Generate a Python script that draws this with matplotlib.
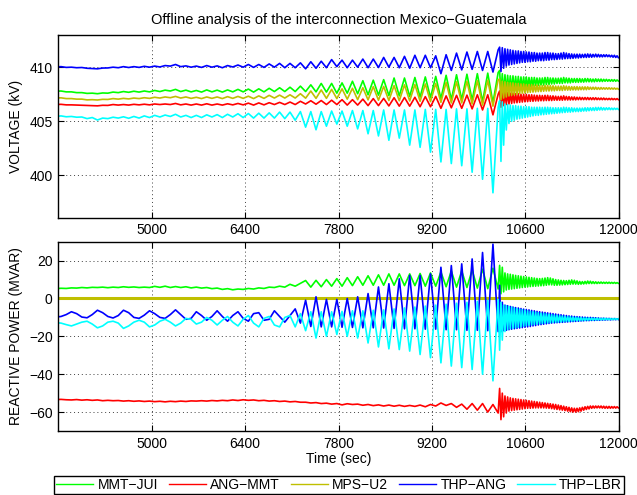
import numpy as np
import matplotlib
matplotlib.use("Agg")
import matplotlib.pyplot as plt

plt.rcParams['font.family'] = ['Liberation Sans', 'DejaVu Sans']

names = ["MMT\u2212JUI", "ANG\u2212MMT", "MPS\u2212U2", "THP\u2212ANG", "THP\u2212LBR"]
colors = ["#00ff00", "#ff0000", "#bfbf00", "#0000ff", "#00ffff"]

x_ticks = [5000, 6400, 7800, 9200, 10600, 12000]

# sample instants (s): slow swing every 78 s, post-event ringing every 20 s
t_slow = np.arange(3563, 10200, 78)    # 86 samples
t_fast = np.arange(10215, 12000, 20)   # 90 samples

# ---------------- bus voltages (kV) ----------------
v_mmt_slow = [407.78, 407.8, 407.72, 407.72, 407.65, 407.65, 407.58, 407.6, 407.55, 407.62,
              407.6, 407.7, 407.65, 407.75, 407.68, 407.78, 407.7, 407.8, 407.72, 407.85,
              407.75, 407.88, 407.8, 407.95, 407.75, 407.88, 407.72, 407.85, 407.7, 407.9,
              407.72, 407.88, 407.7, 407.9, 407.72, 407.95, 407.72, 407.98, 407.7, 408.0,
              407.72, 408.05, 407.75, 408.1, 407.75, 408.15, 407.75, 408.25,
              407.75, 408.37, 407.72, 408.5, 407.7, 408.5, 407.6, 408.55, 407.6, 408.7,
              407.55, 408.75, 407.45, 408.8, 407.42, 408.85, 407.38, 409.0, 407.35, 409.0,
              407.3, 409.05, 407.23, 409.1, 407.2, 409.15, 407.1, 409.25, 407.0, 409.3,
              407.0, 409.35, 406.95, 409.4, 406.8, 409.45, 406.7, 409.5]
v_mmt_fast = [(409.7, 407.5), (409.4, 407.6), (409.3, 407.7), (409.25, 407.8), (409.2, 407.85),
              (409.2, 407.9), (409.15, 407.95), (409.15, 408.0), (409.1, 408.05), (409.1, 408.1),
              (409.1, 408.15), (409.05, 408.2), (409.05, 408.25), (409.05, 408.3), (409.0, 408.3),
              (409.0, 408.35), (409.0, 408.35), (409.05, 408.4), (409.05, 408.4), (409.0, 408.45),
              (409.0, 408.45), (408.98, 408.5), (408.98, 408.5), (409.0, 408.5), (409.05, 408.55),
              (409.0, 408.55), (408.98, 408.55), (408.95, 408.6), (408.95, 408.6), (408.95, 408.6),
              (408.95, 408.62), (408.92, 408.62), (408.95, 408.65), (408.95, 408.65), (408.92, 408.65),
              (408.9, 408.65), (408.92, 408.68), (408.9, 408.68), (408.9, 408.68), (408.88, 408.7),
              (408.88, 408.7), (408.85, 408.7), (408.85, 408.7), (408.85, 408.7), (408.82, 408.72)]

v_ang_slow = [406.55, 406.57, 406.52, 406.52, 406.5, 406.48, 406.45, 406.45, 406.43, 406.48,
              406.47, 406.55, 406.5, 406.55, 406.5, 406.57, 406.52, 406.58, 406.52, 406.6,
              406.55, 406.6, 406.55, 406.65, 406.52, 406.6, 406.5, 406.6, 406.5, 406.62,
              406.5, 406.6, 406.5, 406.62, 406.52, 406.65, 406.52, 406.68, 406.5, 406.7,
              406.52, 406.72, 406.55, 406.75, 406.55, 406.78, 406.55, 406.85,
              406.6, 406.9, 406.58, 406.92, 406.55, 406.95, 406.55, 407.0, 406.5, 407.0,
              406.5, 407.05, 406.45, 407.1, 406.45, 407.12, 406.42, 407.18, 406.4, 407.2,
              406.4, 407.22, 406.35, 407.28, 406.35, 407.3, 406.2, 407.35, 406.25, 407.4,
              406.2, 407.42, 406.15, 407.45, 406.05, 407.45, 405.6, 407.5]
v_ang_fast = [(407.8, 406.3), (407.75, 406.45), (407.7, 406.55), (407.65, 406.6), (407.6, 406.65),
              (407.6, 406.7), (407.55, 406.72), (407.55, 406.75), (407.5, 406.78), (407.5, 406.8),
              (407.48, 406.82), (407.45, 406.85), (407.45, 406.85), (407.42, 406.88), (407.4, 406.88),
              (407.4, 406.9), (407.38, 406.9), (407.4, 406.92), (407.4, 406.92), (407.35, 406.92),
              (407.35, 406.95), (407.32, 406.95), (407.3, 406.95), (407.32, 406.95), (407.35, 406.97),
              (407.3, 406.97), (407.28, 406.97), (407.25, 406.98), (407.25, 406.98), (407.22, 407.0),
              (407.22, 407.0), (407.2, 407.0), (407.2, 407.0), (407.2, 407.0), (407.18, 407.0),
              (407.18, 407.0), (407.18, 407.0), (407.15, 407.0), (407.15, 407.0), (407.15, 407.0),
              (407.12, 407.0), (407.12, 407.0), (407.12, 407.0), (407.1, 407.0), (407.1, 407.0)]

v_mps_slow = [407.15, 407.17, 407.1, 407.1, 407.05, 407.05, 406.98, 407.0, 406.97, 407.03,
              407.02, 407.1, 407.05, 407.12, 407.07, 407.15, 407.1, 407.18, 407.12, 407.22,
              407.15, 407.25, 407.18, 407.3, 407.15, 407.25, 407.12, 407.22, 407.1, 407.25,
              407.12, 407.25, 407.1, 407.28, 407.12, 407.3, 407.12, 407.32, 407.1, 407.35,
              407.12, 407.4, 407.15, 407.42, 407.15, 407.45, 407.15, 407.55,
              407.14, 407.8, 407.12, 407.9, 407.12, 407.95, 407.1, 408.0, 407.05, 408.05,
              407.0, 408.1, 406.98, 408.2, 406.95, 408.22, 406.92, 408.3, 406.9, 408.37,
              406.88, 408.4, 406.85, 408.45, 406.82, 408.5, 406.75, 408.6, 406.7, 408.65,
              406.7, 408.7, 406.6, 408.75, 406.5, 408.8, 406.4, 408.85]
v_mps_fast = [(408.9, 407.0), (408.7, 407.15), (408.65, 407.25), (408.6, 407.35), (408.55, 407.4),
              (408.55, 407.45), (408.5, 407.5), (408.5, 407.55), (408.45, 407.6), (408.45, 407.62),
              (408.4, 407.65), (408.4, 407.68), (408.38, 407.7), (408.35, 407.72), (408.35, 407.75),
              (408.32, 407.75), (408.3, 407.78), (408.32, 407.8), (408.32, 407.8), (408.3, 407.82),
              (408.28, 407.82), (408.25, 407.85), (408.25, 407.85), (408.25, 407.85), (408.28, 407.88),
              (408.25, 407.88), (408.22, 407.88), (408.2, 407.9), (408.2, 407.9), (408.2, 407.9),
              (408.18, 407.92), (408.18, 407.92), (408.18, 407.92), (408.18, 407.95), (408.15, 407.95),
              (408.15, 407.95), (408.15, 407.95), (408.12, 407.95), (408.12, 407.97), (408.1, 407.97),
              (408.1, 407.97), (408.1, 407.97), (408.08, 407.97), (408.08, 407.97), (408.05, 407.97)]

v_thp_ang_slow = [410.02, 410.05, 409.98, 410.0, 409.95, 409.97, 409.9, 409.88, 409.85, 409.92,
                  409.93, 410.0, 409.95, 410.05, 409.97, 410.05, 409.98, 410.08, 410.0, 410.1,
                  410.02, 410.15, 410.1, 410.25, 410.05, 410.12, 410.0, 410.1, 409.98, 410.15,
                  410.0, 410.12, 409.95, 410.15, 410.02, 410.2, 410.0, 410.25, 409.98, 410.25,
                  409.98, 410.3, 410.0, 410.35, 409.95, 410.35, 409.95, 410.4,
                  409.85, 410.5, 409.9, 410.55, 409.95, 410.7, 410.05, 410.65, 409.95, 410.65,
                  410.0, 410.75, 409.95, 410.75, 409.97, 410.9, 410.0, 410.9, 409.95, 411.0,
                  409.9, 411.1, 409.95, 411.1, 409.95, 411.05, 409.4, 411.15, 409.7, 411.3,
                  409.75, 411.4, 409.8, 411.45, 409.7, 411.45, 409.55, 411.6]
v_thp_ang_fast = [(411.85, 409.6), (411.8, 409.9), (411.7, 410.1), (411.65, 410.2), (411.6, 410.25),
                  (411.55, 410.3), (411.5, 410.35), (411.5, 410.4), (411.45, 410.45), (411.45, 410.45),
                  (411.4, 410.5), (411.4, 410.5), (411.35, 410.55), (411.35, 410.55), (411.3, 410.6),
                  (411.3, 410.6), (411.3, 410.6), (411.35, 410.65), (411.35, 410.65), (411.3, 410.7),
                  (411.3, 410.7), (411.25, 410.72), (411.25, 410.75), (411.3, 410.75), (411.35, 410.78),
                  (411.3, 410.8), (411.25, 410.8), (411.22, 410.82), (411.2, 410.85), (411.2, 410.85),
                  (411.2, 410.88), (411.18, 410.9), (411.2, 410.9), (411.22, 410.92), (411.2, 410.92),
                  (411.18, 410.95), (411.2, 410.95), (411.18, 410.95), (411.15, 410.95), (411.15, 410.97),
                  (411.15, 410.97), (411.12, 410.95), (411.1, 410.92), (411.1, 410.9), (411.05, 410.88)]

v_thp_lbr_slow = [405.45, 405.5, 405.42, 405.45, 405.38, 405.4, 405.25, 405.35, 405.12, 405.3,
                  405.25, 405.38, 405.3, 405.42, 405.28, 405.45, 405.3, 405.5, 405.35, 405.55,
                  405.4, 405.58, 405.45, 405.65, 405.4, 405.55, 405.35, 405.55, 405.35, 405.6,
                  405.4, 405.62, 405.35, 405.65, 405.4, 405.7, 405.35, 405.72, 405.3, 405.75,
                  405.3, 405.78, 405.3, 405.85, 405.25, 405.85, 405.1, 405.9,
                  404.46, 405.9, 404.22, 405.9, 404.55, 405.95, 404.75, 405.95, 404.55, 406.0,
                  404.3, 406.0, 403.85, 406.0, 403.65, 406.05, 403.25, 406.05, 403.45, 406.05,
                  402.8, 406.05, 402.6, 406.1, 402.15, 406.1, 401.25, 406.1, 401.1, 406.15,
                  400.9, 406.15, 400.3, 406.2, 399.65, 406.2, 398.4, 406.3]
v_thp_lbr_fast = [(406.9, 401.3), (406.8, 402.8), (406.6, 404.2), (406.55, 404.8), (406.5, 405.0),
                  (406.45, 405.1), (406.45, 405.2), (406.4, 405.25), (406.4, 405.3), (406.35, 405.35),
                  (406.35, 405.4), (406.35, 405.45), (406.3, 405.5), (406.3, 405.55), (406.3, 405.55),
                  (406.3, 405.6), (406.28, 405.62), (406.3, 405.65), (406.3, 405.68), (406.28, 405.7),
                  (406.25, 405.72), (406.25, 405.75), (406.25, 405.78), (406.25, 405.8), (406.3, 405.82),
                  (406.28, 405.85), (406.25, 405.85), (406.25, 405.88), (406.22, 405.9), (406.22, 405.9),
                  (406.22, 405.92), (406.22, 405.95), (406.25, 405.95), (406.25, 405.98), (406.25, 406.0),
                  (406.25, 406.0), (406.28, 406.02), (406.28, 406.05), (406.28, 406.05), (406.25, 406.05),
                  (406.25, 406.08), (406.25, 406.08), (406.22, 406.08), (406.22, 406.1), (406.2, 406.1)]

# ---------------- reactive power flows (MVAR) ----------------
q_mmt_slow = [5.2, 5.4, 5.3, 5.6, 5.5, 5.8, 5.6, 5.9, 5.8, 6.0,
              5.7, 6.0, 5.8, 6.2, 5.9, 6.1, 5.8, 6.0, 5.8, 6.4,
              5.9, 6.5, 5.8, 6.3, 5.8, 6.2, 5.6, 6.0, 5.5, 5.8,
              5.2, 5.5, 4.8, 5.2, 4.6, 5.0, 4.8, 5.3, 5.0, 5.6,
              5.3, 6.0, 5.8, 6.5, 6.0, 7.5, 6.5, 8.0,
              9.5, 6.0, 9.6, 6.2, 10.0, 6.5, 10.5, 6.5, 11.0, 6.8,
              11.5, 7.0, 12.0, 7.0, 12.5, 7.0, 13.0, 7.0, 13.0, 6.8,
              13.0, 6.8, 13.2, 6.5, 13.5, 6.5, 14.0, 6.2, 14.5, 6.0,
              14.5, 5.8, 15.0, 5.5, 15.5, 5.2, 16.0, 5.0]
q_mmt_fast = [(17.5, 2.5), (16.5, 3.5), (13.5, 4.5), (13.0, 4.8), (12.8, 5.0),
              (12.5, 5.2), (12.2, 5.4), (12.0, 5.6), (11.8, 5.8), (11.6, 6.0),
              (11.4, 6.1), (11.2, 6.3), (11.0, 6.4), (10.8, 6.5), (10.6, 6.6),
              (10.5, 6.7), (10.6, 6.8), (10.8, 7.0), (11.0, 7.2), (10.8, 7.2),
              (10.4, 7.0), (10.0, 7.0), (9.8, 7.1), (9.6, 7.2), (9.5, 7.3),
              (9.4, 7.4), (9.6, 7.5), (9.8, 7.6), (9.6, 7.6), (9.3, 7.5),
              (9.0, 7.6), (8.9, 7.7), (9.0, 7.8), (9.2, 7.9), (9.1, 7.9),
              (8.9, 7.9), (8.8, 7.9), (8.7, 8.0), (8.7, 8.0), (8.6, 8.0),
              (8.6, 8.0), (8.6, 8.0), (8.5, 8.0), (8.5, 8.0), (8.4, 8.0)]

q_ang_slow = [-53.4, -53.3, -53.5, -53.6, -53.4, -53.7, -53.5, -53.8, -53.6, -54.0,
              -53.8, -54.0, -53.9, -54.2, -54.0, -54.3, -54.1, -54.4, -54.2, -54.5,
              -54.3, -54.6, -54.3, -54.5, -54.2, -54.4, -54.1, -54.2, -54.0, -54.2,
              -53.9, -54.1, -53.8, -54.0, -53.6, -53.9, -53.5, -53.8, -53.6, -54.0,
              -53.8, -54.2, -54.0, -54.4, -54.2, -54.6, -54.4, -54.8,
              -54.8, -55.2, -55.0, -55.5, -55.3, -55.8, -55.5, -56.2, -55.6, -56.0,
              -55.8, -56.4, -56.0, -56.6, -56.2, -56.8, -56.3, -56.9, -56.4, -57.0,
              -56.5, -57.0, -56.3, -57.2, -56.0, -56.8, -55.2, -56.5, -55.5, -57.5,
              -55.8, -58.5, -55.5, -59.0, -55.5, -60.0, -56.0, -60.5]
q_ang_fast = [(-47.5, -64.0), (-50.0, -62.5), (-51.5, -60.5), (-52.0, -59.5), (-52.5, -59.2),
              (-52.8, -59.0), (-53.0, -58.8), (-53.2, -58.6), (-53.4, -58.4), (-53.6, -58.2),
              (-53.8, -58.0), (-54.0, -58.0), (-54.2, -57.9), (-54.4, -57.8), (-54.6, -57.8),
              (-54.8, -57.8), (-55.0, -57.8), (-55.2, -57.9), (-55.4, -58.0), (-55.6, -58.2),
              (-55.8, -58.4), (-56.0, -58.6), (-56.3, -58.8), (-56.6, -59.0), (-56.9, -59.2),
              (-57.2, -59.5), (-57.5, -59.8), (-57.8, -60.0), (-58.0, -60.0), (-58.0, -59.8),
              (-57.8, -59.5), (-57.5, -59.0), (-57.2, -58.6), (-57.0, -58.3), (-56.8, -58.0),
              (-56.8, -57.9), (-56.8, -57.8), (-56.8, -57.8), (-56.8, -57.9), (-56.9, -58.0),
              (-57.0, -58.0), (-57.0, -58.0), (-57.1, -57.9), (-57.1, -57.9), (-57.2, -57.8)]

# MPS-U2 stays at zero over the whole record
t_mps = [3600, 12000]
q_mps = [0.0, 0.0]

q_thp_ang_slow = [-9.8, -9.5, -8.5, -7.0, -8.0, -9.8, -10.2, -8.5, -6.2, -7.5,
                  -9.5, -10.3, -9.0, -6.2, -7.5, -10.0, -10.5, -8.8, -6.5, -8.0,
                  -10.0, -10.5, -8.5, -6.0, -8.5, -11.0, -10.5, -7.0, -9.0, -11.5,
                  -9.5, -6.5, -9.5, -12.0, -9.0, -7.0, -10.5, -12.0, -8.0, -7.5,
                  -11.5, -11.0, -6.5, -9.5, -12.5, -9.0, -5.5, -13.0,
                  -0.9, -14.8, 0.9, -15.0, -0.5, -15.0, -0.5, -15.2, 0.0, -15.3,
                  0.9, -15.5, 2.6, -15.5, 6.1, -15.6, 7.8, -15.8, 10.4, -16.0,
                  12.2, -16.0, 12.2, -16.2, 13.0, -16.2, 16.5, -16.5, 17.4, -16.5,
                  18.3, -16.8, 20.9, -16.8, 24.3, -17.0, 28.7, -17.5]
q_thp_ang_fast = [(7.0, -17.5), (-2.0, -17.0), (-3.5, -16.8), (-3.8, -16.5), (-4.2, -16.2),
                  (-4.5, -16.0), (-4.8, -15.8), (-5.0, -15.6), (-5.3, -15.4), (-5.6, -15.2),
                  (-5.8, -15.0), (-6.0, -14.8), (-6.3, -14.5), (-6.5, -14.3), (-6.8, -14.0),
                  (-7.0, -13.8), (-7.2, -13.6), (-7.4, -13.4), (-7.6, -13.2), (-7.8, -13.0),
                  (-8.0, -12.9), (-8.2, -12.8), (-8.4, -12.7), (-8.6, -12.6), (-8.8, -12.5),
                  (-9.0, -12.4), (-9.2, -12.3), (-9.3, -12.2), (-9.5, -12.1), (-9.6, -12.0),
                  (-9.7, -11.9), (-9.8, -11.8), (-9.9, -11.7), (-10.0, -11.7), (-10.0, -11.6),
                  (-10.1, -11.6), (-10.2, -11.5), (-10.3, -11.5), (-10.4, -11.4), (-10.4, -11.4),
                  (-10.5, -11.3), (-10.5, -11.3), (-10.6, -11.2), (-10.6, -11.2), (-10.7, -11.1)]

q_thp_lbr_slow = [-12.8, -13.0, -13.8, -14.5, -13.5, -12.5, -12.0, -13.5, -15.5, -14.5,
                  -12.5, -12.0, -13.0, -15.8, -14.5, -12.5, -11.5, -12.5, -15.0, -14.0,
                  -12.0, -11.0, -12.5, -14.5, -13.0, -10.5, -11.0, -13.5, -12.5, -10.0,
                  -11.5, -14.0, -11.5, -9.5, -12.5, -14.5, -11.0, -9.0, -13.0, -15.0,
                  -10.5, -9.5, -14.0, -15.0, -10.0, -9.0, -15.0, -8.0,
                  -17.0, -7.0, -20.9, -7.0, -20.0, -7.0, -19.0, -6.8, -20.0, -6.5,
                  -20.9, -6.5, -23.5, -6.2, -25.6, -6.0, -26.6, -5.5, -27.0, -5.0,
                  -27.8, -4.5, -29.6, -4.0, -31.3, -3.5, -34.0, -3.0, -35.7, -2.5,
                  -36.5, -2.0, -37.5, -1.5, -40.0, -1.0, -43.5, -0.5]
q_thp_lbr_fast = [(-27.3, -2.0), (-22.0, -3.5), (-17.5, -3.8), (-16.5, -4.2), (-16.0, -4.5),
                  (-15.8, -5.0), (-15.5, -5.3), (-15.2, -5.6), (-15.0, -5.9), (-14.7, -6.2),
                  (-14.4, -6.5), (-14.2, -6.8), (-14.0, -7.0), (-13.8, -7.2), (-13.6, -7.5),
                  (-13.4, -7.7), (-13.2, -7.9), (-13.0, -8.1), (-12.9, -8.3), (-12.8, -8.5),
                  (-12.7, -8.7), (-12.6, -8.9), (-12.5, -9.0), (-12.4, -9.2), (-12.3, -9.4),
                  (-12.2, -9.5), (-12.1, -9.6), (-12.0, -9.8), (-11.9, -9.9), (-11.8, -10.0),
                  (-11.8, -10.1), (-11.7, -10.2), (-11.6, -10.2), (-11.6, -10.3), (-11.5, -10.3),
                  (-11.5, -10.4), (-11.4, -10.4), (-11.4, -10.5), (-11.3, -10.5), (-11.3, -10.5),
                  (-11.2, -10.6), (-11.2, -10.6), (-11.2, -10.6), (-11.1, -10.6), (-11.1, -10.7)]


def series(slow, fast):
    """Join the slow-swing samples with the post-event ringing samples."""
    t = np.concatenate([t_slow, t_fast])
    y = np.concatenate([np.asarray(slow, float), np.ravel(fast)])
    return t, y


voltage = [series(v_mmt_slow, v_mmt_fast), series(v_ang_slow, v_ang_fast),
           series(v_mps_slow, v_mps_fast), series(v_thp_ang_slow, v_thp_ang_fast),
           series(v_thp_lbr_slow, v_thp_lbr_fast)]
reactive = [series(q_mmt_slow, q_mmt_fast), series(q_ang_slow, q_ang_fast),
            (np.array(t_mps), np.array(q_mps)),
            series(q_thp_ang_slow, q_thp_ang_fast), series(q_thp_lbr_slow, q_thp_lbr_fast)]

fig = plt.figure(figsize=(6.37, 4.95), dpi=100)
ax1 = fig.add_axes([0.0915, 0.5602, 0.8798, 0.3697])
ax2 = fig.add_axes([0.0915, 0.1293, 0.8798, 0.3824])

for (t, y), c in zip(voltage, colors):
    ax1.plot(t, y, color=c, lw=1.2)
for (t, y), c, n in zip(reactive, colors, names):
    lw = 2.2 if n == names[2] else 1.2
    ax2.plot(t, y, color=c, lw=lw, label=n)

for ax in (ax1, ax2):
    ax.set_xlim(3600, 12000)
    ax.set_xticks(x_ticks)
    ax.grid(True, linestyle=(0, (1, 3)), color='0.25', linewidth=0.7)
    ax.tick_params(direction='in', top=True, right=True, length=4, width=0.8,
                   labelsize=10, pad=4)
    for s in ax.spines.values():
        s.set_linewidth(1.0)

ax1.set_ylim(396.1, 413.0)
ax1.set_yticks([400, 405, 410])
ax1.set_ylabel("VOLTAGE (kV)", fontsize=10)
ax1.set_title("Offline analysis of the interconnection Mexico\u2212Guatemala",
              fontsize=10.5, pad=8)

ax2.set_ylim(-70, 30)
ax2.set_yticks([-60, -40, -20, 0, 20])
ax2.set_ylabel("REACTIVE POWER (MVAR)", fontsize=10)
ax2.set_xlabel("Time (sec)", fontsize=10, labelpad=1)

ax1.yaxis.set_label_coords(-0.063, 0.5)
ax2.yaxis.set_label_coords(-0.063, 0.5)

leg_handles = [plt.Line2D([], [], color=c, lw=1.0) for c in colors]
leg = fig.legend(leg_handles, names, loc='lower left', ncol=5, mode='expand',
                 bbox_to_anchor=(0.0843, 0.002, 0.895, 0.042), fontsize=10,
                 handlelength=2.7, handletextpad=0.3, columnspacing=0.4,
                 borderpad=0.15, borderaxespad=0.0, fancybox=False,
                 framealpha=1, edgecolor='black')
leg.get_frame().set_linewidth(1.0)

fig.savefig("out.png", dpi=100)
